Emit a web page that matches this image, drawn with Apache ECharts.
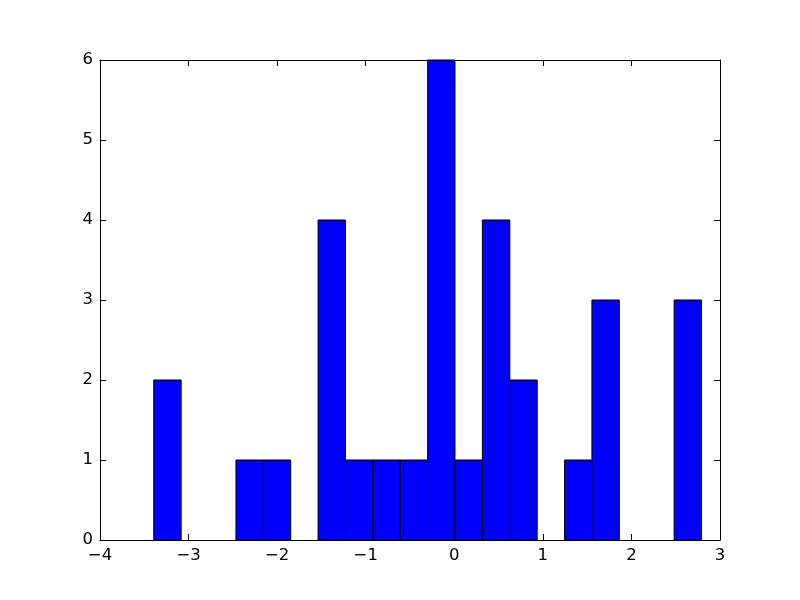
<!DOCTYPE html>
<html>
<head>
<meta charset="utf-8">
<script src="https://cdn.jsdelivr.net/npm/echarts@6/dist/echarts.min.js"></script>
<style>html,body{margin:0;padding:0;background:#fff;}#c{width:800px;height:600px;}</style>
</head>
<body>
<div id="c"></div>
<script>
var binEdges = [-3.393, -3.084, -2.775, -2.465, -2.156, -1.847, -1.538, -1.229, -0.919, -0.610, -0.301, 0.008, 0.317, 0.627, 0.936, 1.245, 1.554, 1.863, 2.173, 2.482, 2.791];
var counts = [2, 0, 0, 1, 1, 0, 4, 1, 1, 1, 6, 1, 4, 2, 0, 1, 3, 0, 0, 3];
var xTicks = [-4, -3, -2, -1, 0, 1, 2, 3];
var yTicks = [0, 1, 2, 3, 4, 5, 6];

var data = counts.map(function (c, i) { return [binEdges[i], binEdges[i + 1], c]; });
var fmt = function (v) { return String(v).replace('-', '\u2212'); };
var font = { fontFamily: 'DejaVu Sans', fontSize: 16.5, color: '#000' };
var axLine = { show: true, onZero: false, lineStyle: { color: '#000', width: 1 } };
var tick = { show: true, inside: true, length: 6, lineStyle: { color: '#000', width: 1 } };

var chart = echarts.init(document.getElementById('c'), null, { renderer: 'canvas' });
chart.setOption({
  animation: false,
  backgroundColor: '#fff',
  grid: { left: 100, right: 80, top: 60, bottom: 60, containLabel: false },
  xAxis: [
    { type: 'value', position: 'bottom', min: xTicks[0], max: xTicks[xTicks.length - 1], interval: 1,
      axisLine: axLine, axisTick: tick, splitLine: { show: false },
      axisLabel: Object.assign({ margin: 7, formatter: fmt }, font) },
    { type: 'value', position: 'top', min: xTicks[0], max: xTicks[xTicks.length - 1], interval: 1,
      axisLine: axLine, axisTick: tick, splitLine: { show: false }, axisLabel: { show: false } }
  ],
  yAxis: [
    { type: 'value', position: 'left', min: yTicks[0], max: yTicks[yTicks.length - 1], interval: 1,
      axisLine: axLine, axisTick: tick, splitLine: { show: false },
      axisLabel: Object.assign({ margin: 7, formatter: fmt }, font) },
    { type: 'value', position: 'right', min: yTicks[0], max: yTicks[yTicks.length - 1], interval: 1,
      axisLine: axLine, axisTick: tick, splitLine: { show: false }, axisLabel: { show: false } }
  ],
  series: [{
    type: 'custom',
    xAxisIndex: 0, yAxisIndex: 0,
    encode: { x: [0, 1], y: 2 },
    data: data,
    renderItem: function (params, api) {
      var h = api.value(2);
      if (!h) return null;
      var p0 = api.coord([api.value(0), h]);
      var p1 = api.coord([api.value(1), 0]);
      return {
        type: 'rect',
        shape: { x: p0[0], y: p0[1], width: p1[0] - p0[0], height: p1[1] - p0[1] },
        style: { fill: '#0000ff', stroke: '#000', lineWidth: 1 }
      };
    }
  }]
});
</script>
</body>
</html>
